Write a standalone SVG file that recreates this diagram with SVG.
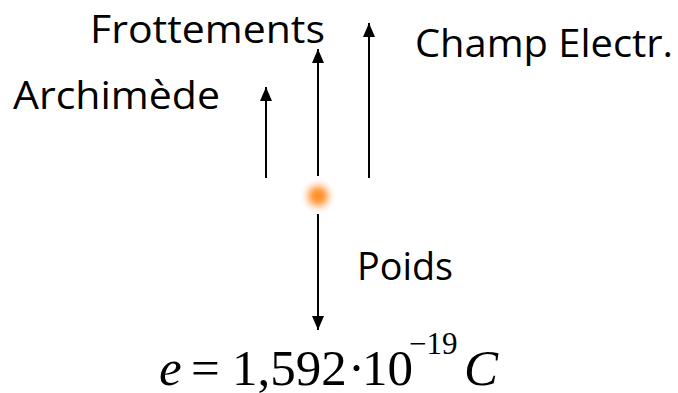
<svg xmlns="http://www.w3.org/2000/svg" width="678" height="393" viewBox="0 0 678 393">
<style>
.lbl{font-family:"Open Sans","DejaVu Sans",sans-serif;font-size:39px;fill:#000}
.math{font-family:"Liberation Serif","Times New Roman",serif;font-size:51px;fill:#000}
.it{font-style:italic}
.arr{stroke:#000;stroke-width:2;fill:none;marker-end:url(#ah)}
</style>
<defs>
<marker id="ah" markerUnits="userSpaceOnUse" markerWidth="14" markerHeight="12" viewBox="0 0 14 12" refX="14" refY="6" orient="auto">
<path d="M0,0 L14,6 L0,12 z" fill="#000"/>
</marker>
<radialGradient id="glow" cx="0.5" cy="0.5" r="0.5">
<stop offset="0" stop-color="#FF8A1E"/>
<stop offset="0.3" stop-color="#FFA04A"/>
<stop offset="0.6" stop-color="#FFDCC2"/>
<stop offset="1" stop-color="#FFFFFF" stop-opacity="0"/>
</radialGradient>
</defs>
<g id="connectors">
<line class="arr" x1="266" y1="178" x2="266" y2="87"/>
<line class="arr" x1="318" y1="176" x2="318" y2="49"/>
<line class="arr" x1="369" y1="178" x2="369" y2="23"/>
<line class="arr" x1="318" y1="214" x2="318" y2="330"/>
</g>
<g id="particle">
<circle cx="318" cy="196" r="19" fill="url(#glow)"/>
</g>
<g id="frottements"><text class="lbl" x="90" y="43" textLength="235" lengthAdjust="spacingAndGlyphs">Frottements</text></g>
<g id="archimede"><text class="lbl" x="13" y="109" textLength="207" lengthAdjust="spacingAndGlyphs">Archimède</text></g>
<g id="champ"><text class="lbl" x="415" y="57" textLength="258" lengthAdjust="spacingAndGlyphs">Champ Electr.</text></g>
<g id="poids"><text class="lbl" x="357" y="280" textLength="96" lengthAdjust="spacingAndGlyphs">Poids</text></g>
<g id="formula">
<text class="math" y="385"><tspan class="it" x="159">e</tspan><tspan x="191">=</tspan><tspan x="232">1,592</tspan><tspan x="348">·</tspan><tspan x="362">10</tspan><tspan x="409" y="354" style="font-size:31px">−19</tspan><tspan class="it" x="464" y="385">C</tspan></text>
</g>
</svg>
